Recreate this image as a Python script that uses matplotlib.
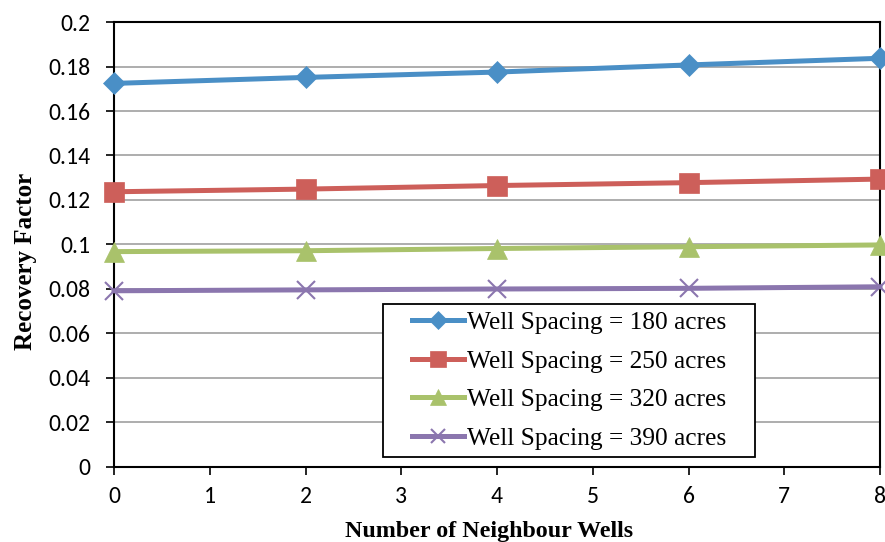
import matplotlib
matplotlib.use("Agg")
import matplotlib.pyplot as plt
from matplotlib import font_manager
from matplotlib.patches import Rectangle

# data
neighbour_wells = [0, 2, 4, 6, 8]
rf_180 = [0.1724, 0.1751, 0.1775, 0.1807, 0.1837]
rf_250 = [0.1237, 0.1249, 0.1265, 0.1278, 0.1294]
rf_320 = [0.0968, 0.0972, 0.0982, 0.0990, 0.0998]
rf_390 = [0.0792, 0.0796, 0.0800, 0.0803, 0.0810]
series_labels = [
    "Well Spacing = 180 acres",
    "Well Spacing = 250 acres",
    "Well Spacing = 320 acres",
    "Well Spacing = 390 acres",
]
y_tick_labels = ["0", "0.02", "0.04", "0.06", "0.08", "0.1", "0.12", "0.14", "0.16", "0.18", "0.2"]

STYLES = [
    ("#4A8FC6", "D", 11),
    ("#CD5F5A", "s", 14),
    ("#A9C26B", "^", 14),
    ("#8B76AE", "x", 13),
]

installed = {f.name for f in font_manager.fontManager.ttflist}
tick_family = [f for f in ("Carlito", "Liberation Sans Narrow", "Liberation Sans") if f in installed] + ["DejaVu Sans"]
serif_family = ["Liberation Serif", "DejaVu Serif"]

fig = plt.figure(figsize=(8.85, 5.42), dpi=100)
ax = fig.add_axes([0.1288, 0.1384, 0.8656, 0.8210])

for values, label, (color, marker, size) in zip(
    [rf_180, rf_250, rf_320, rf_390], series_labels, STYLES
):
    ax.plot(
        neighbour_wells,
        values,
        color=color,
        linewidth=3.6,
        marker=marker,
        markersize=size,
        markeredgewidth=1.5 if marker == "x" else 0.5,
        markeredgecolor=color,
        label=label,
        clip_on=False,
        zorder=3,
    )

ax.set_xlim(0, 8)
ax.set_ylim(0, 0.2)
ax.set_xticks(range(0, 9))
ax.set_yticks([i * 0.02 for i in range(len(y_tick_labels))])
ax.set_yticklabels(y_tick_labels)
ax.grid(True, axis="y", color="#A0A0A0", linewidth=1.2)
ax.set_axisbelow(True)
for spine in ax.spines.values():
    spine.set_linewidth(1.5)
    spine.set_color("black")
ax.tick_params(axis="both", direction="out", length=6, width=1.2, labelsize=17)
ax.tick_params(axis="y", pad=11)
ax.tick_params(axis="x", pad=8)
for lbl in ax.get_xticklabels() + ax.get_yticklabels():
    lbl.set_family(tick_family)

ax.set_xlabel("Number of Neighbour Wells", family=serif_family, fontweight="bold", fontsize=17.3)
ax.set_ylabel("Recovery Factor", family=serif_family, fontweight="bold", fontsize=18)
ax.xaxis.set_label_coords(0.4896, -0.121)
ax.yaxis.set_label_coords(-0.10, 0.463)

# legend box drawn separately so the entries can sit centred inside it
box = (0.351, 0.0225, 0.486, 0.344)
ax.add_patch(Rectangle(box[:2], box[2], box[3], transform=ax.transAxes,
                       facecolor="white", edgecolor="black", linewidth=1.3, zorder=4))
leg = ax.legend(
    loc="center",
    bbox_to_anchor=box,
    prop={"family": serif_family, "size": 18.3},
    frameon=False,
    handlelength=2.05,
    handletextpad=0.1,
    borderpad=0.2,
    labelspacing=0.62,
    borderaxespad=0,
    markerscale=0.8,
)
leg.set_zorder(5)

fig.savefig("out.png", dpi=100)
